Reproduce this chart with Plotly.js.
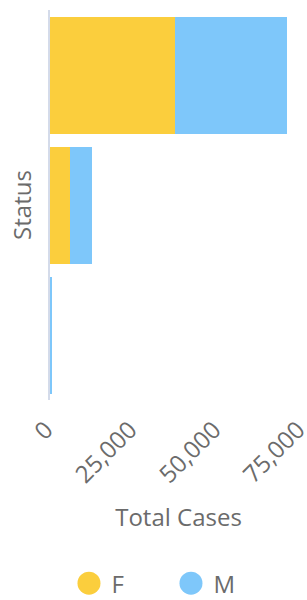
<!DOCTYPE html>
<html>
<head>
<meta charset="utf-8">
<script src="https://cdn.plot.ly/plotly-3.0.1.min.js"></script>
<style>html,body{margin:0;padding:0;background:#fff;}#chart{width:307px;height:600px;}</style>
</head>
<body>
<div id="chart"></div>
<script>
const statusCategories = ["Recovered", "Active", "Deceased"];
const femaleCases = [37200, 5950, 80];
const maleCases = [33240, 6550, 520];
const seriesNames = ["F", "M"];
const seriesColors = ["#FBCE3D", "#7EC7FA"];
const tickValues = [0, 25000, 50000, 75000];
const tickLabels = ["0", "25,000", "50,000", "75,000"];

const traces = [
  {type: "bar", orientation: "h", y: statusCategories, x: femaleCases, name: seriesNames[0],
   marker: {color: seriesColors[0]}, showlegend: false, legendgroup: "F"},
  {type: "bar", orientation: "h", y: statusCategories, x: maleCases, name: seriesNames[1],
   marker: {color: seriesColors[1]}, showlegend: false, legendgroup: "M"},
  {type: "scatter", mode: "markers", x: [null], y: [null], name: seriesNames[0], legendgroup: "F",
   marker: {color: seriesColors[0], size: 16, symbol: "circle"}},
  {type: "scatter", mode: "markers", x: [null], y: [null], name: seriesNames[1], legendgroup: "M",
   marker: {color: seriesColors[1], size: 16, symbol: "circle"}}
];

const layout = {
  width: 307, height: 600,
  margin: {l: 50, r: 0, t: 10, b: 200, autoexpand: false},
  barmode: "stack",
  bargap: 0.1,
  paper_bgcolor: "#ffffff",
  plot_bgcolor: "#ffffff",
  font: {family: "Open Sans, sans-serif", size: 24, color: "#6b6b6b"},
  showlegend: true,
  legend: {orientation: "h", x: 0.461, xanchor: "center", y: -0.413, yanchor: "top",
           font: {size: 24, color: "#6b6b6b"}, itemwidth: 35,
           entrywidth: 52, entrywidthmode: "pixels", traceorder: "normal"},
  xaxis: {
    range: [0, 76500], tickvals: tickValues, ticktext: tickLabels,
    tickangle: -45, showgrid: false, zeroline: false, showline: false, ticks: "",
    ticklabeloverflow: "allow", ticklabelstandoff: 10, ticklabelshift: -4,
    tickfont: {size: 24, color: "#6b6b6b"},
    title: {text: "Total Cases", font: {size: 24, color: "#6b6b6b"}, standoff: 20},
    automargin: false, fixedrange: true
  },
  yaxis: {
    autorange: "reversed", showticklabels: false, showgrid: false, zeroline: false,
    showline: true, linecolor: "#D4DBEA", linewidth: 2, ticks: "",
    title: {text: "Status", font: {size: 24, color: "#6b6b6b"}, standoff: 10},
    automargin: false, fixedrange: true
  }
};

Plotly.newPlot("chart", traces, layout, {displayModeBar: false, staticPlot: true}).then(function () {
  const r = 11.5;
  document.querySelectorAll("#chart .legend .legendpoints path.scatterpts").forEach(function (p) {
    p.setAttribute("d", "M" + r + ",0A" + r + "," + r + " 0 1,1 0,-" + r + "A" + r + "," + r + " 0 0,1 " + r + ",0Z");
  });
});
</script>
</body>
</html>
